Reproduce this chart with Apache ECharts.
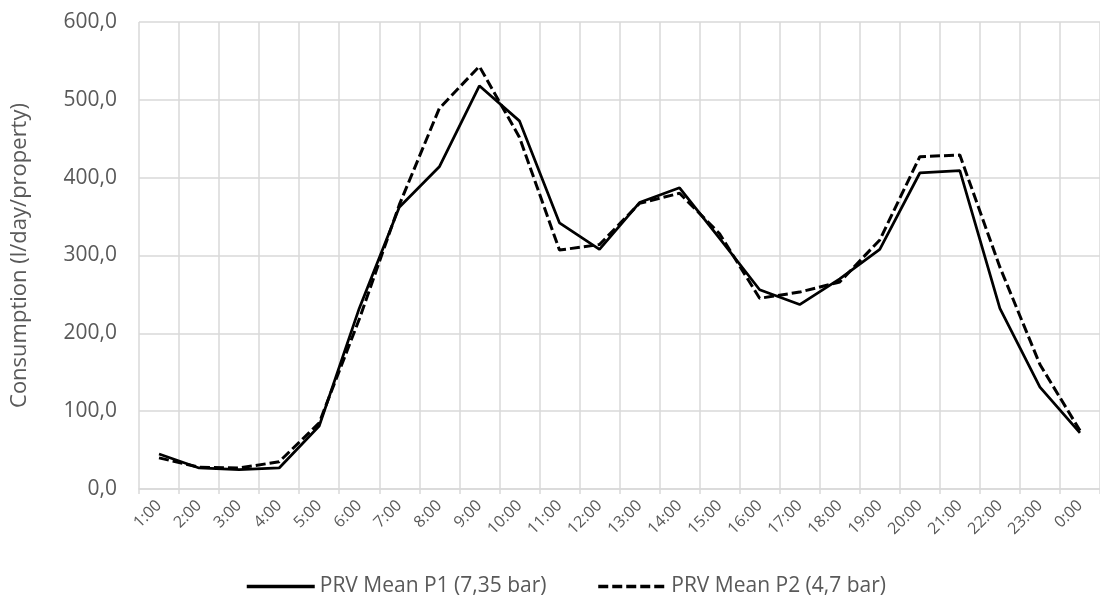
<!DOCTYPE html>
<html>
<head>
<meta charset="utf-8">
<script src="https://cdn.jsdelivr.net/npm/echarts@6/dist/echarts.min.js"></script>
<style>html,body{margin:0;padding:0;background:#fff}#c{width:1100px;height:598px}</style>
</head>
<body>
<div id="c"></div>
<script>
const categories = ['1:00','2:00','3:00','4:00','5:00','6:00','7:00','8:00','9:00','10:00','11:00','12:00','13:00','14:00','15:00','16:00','17:00','18:00','19:00','20:00','21:00','22:00','23:00','0:00'];
const p1Name = 'PRV Mean P1 (7,35 bar)';
const p2Name = 'PRV Mean P2 (4,7 bar)';
const p1Values = [45, 27, 25, 27, 81, 232, 362, 414, 518, 473, 342, 308, 368, 387, 322, 256, 237, 270, 308, 406, 409, 232, 131, 72];
const p2Values = [40, 28, 27, 35, 85, 218, 365, 489, 543, 452, 307, 314, 367, 380, 328, 245, 253, 266, 320, 427, 429, 285, 160, 75];
const yAxisName = 'Consumption (l/day/property)';

const font = '"Open Sans", "Noto Sans", sans-serif';
const chart = echarts.init(document.getElementById('c'), null, {renderer: 'canvas'});
chart.setOption({
  animation: false,
  backgroundColor: '#fff',
  grid: {left: 139, top: 22, width: 969, height: 467, containLabel: false},
  legend: {
    top: 571,
    left: 240,
    itemWidth: 68,
    itemHeight: 14,
    itemGap: 50,
    itemStyle: {opacity: 0},
    lineStyle: {width: 3.5},
    textStyle: {fontFamily: font, fontSize: 21, color: '#595959'},
    data: [p1Name, p2Name]
  },
  xAxis: {
    type: 'category',
    data: categories,
    boundaryGap: true,
    axisLine: {show: true, lineStyle: {color: '#d9d9d9', width: 1.5}},
    axisTick: {show: true, length: 5, lineStyle: {color: '#d9d9d9', width: 1.5}},
    splitLine: {show: true, lineStyle: {color: '#d9d9d9', width: 1.5}},
    axisLabel: {rotate: 45, margin: 14, fontFamily: font, fontSize: 16, color: '#595959', interval: 0}
  },
  yAxis: {
    type: 'value',
    min: 0, max: 600, interval: 100,
    name: yAxisName,
    nameLocation: 'middle',
    nameGap: 108,
    nameTextStyle: {fontFamily: font, fontSize: 22, color: '#595959'},
    axisLine: {show: false},
    axisTick: {show: false},
    splitLine: {show: true, lineStyle: {color: '#d9d9d9', width: 1.5}},
    axisLabel: {margin: 22, fontFamily: font, fontSize: 21, color: '#595959',
      formatter: v => v.toFixed(1).replace('.', ',')}
  },
  series: [
    {name: p1Name, type: 'line', data: p1Values, symbol: 'none', lineStyle: {color: '#000', width: 2.75, type: 'solid'}, itemStyle: {color: '#000'}},
    {name: p2Name, type: 'line', data: p2Values, symbol: 'none', lineStyle: {color: '#000', width: 3, type: [10, 4]}, itemStyle: {color: '#000'}}
  ]
});
</script>
</body>
</html>
